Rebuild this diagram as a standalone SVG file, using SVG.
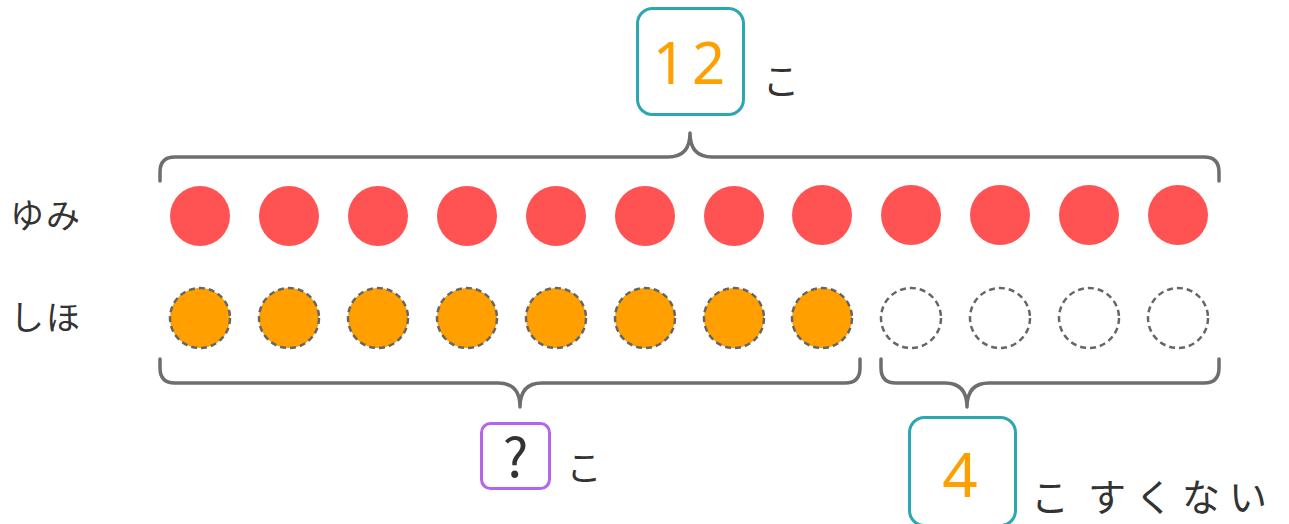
<svg xmlns="http://www.w3.org/2000/svg" width="1289" height="524" viewBox="0 0 1289 524">
<style>
.t{font-family:"Noto Sans CJK JP","Noto Sans",sans-serif;fill:#333;}
.num{font-family:"Noto Sans","Noto Sans CJK JP",sans-serif;fill:#ff9f00;}
.box{fill:#fff;stroke-width:3;}
.red{fill:#ff5252;}
.org{fill:#ff9f00;stroke:#666;stroke-width:2.5;stroke-dasharray:6 4;}
.emp{fill:none;stroke:#666;stroke-width:2.5;stroke-dasharray:6 4;}
.br{fill:none;stroke:#6e6e6e;stroke-width:3.5;stroke-linecap:round;stroke-linejoin:round;}
</style>
<rect width="1289" height="524" fill="#fff"/>
<g id="labels">
<text class="t" x="46" y="228" font-size="34" text-anchor="middle" letter-spacing="2">ゆみ</text>
<text class="t" x="46" y="330" font-size="34" text-anchor="middle" letter-spacing="2">しほ</text>
</g>
<g id="yumi">
<circle class="red" cx="200" cy="216" r="30"/>
<circle class="red" cx="289" cy="216" r="30"/>
<circle class="red" cx="378" cy="216" r="30"/>
<circle class="red" cx="467" cy="216" r="30"/>
<circle class="red" cx="556" cy="216" r="30"/>
<circle class="red" cx="645" cy="216" r="30"/>
<circle class="red" cx="734" cy="216" r="30"/>
<circle class="red" cx="822" cy="215" r="30"/>
<circle class="red" cx="911" cy="215" r="30"/>
<circle class="red" cx="1000" cy="215" r="30"/>
<circle class="red" cx="1089" cy="215" r="30"/>
<circle class="red" cx="1178" cy="215" r="30"/>
</g>
<g id="shiho">
<circle class="org" cx="200" cy="318" r="30"/>
<circle class="org" cx="289" cy="318" r="30"/>
<circle class="org" cx="378" cy="318" r="30"/>
<circle class="org" cx="467" cy="318" r="30"/>
<circle class="org" cx="556" cy="318" r="30"/>
<circle class="org" cx="645" cy="318" r="30"/>
<circle class="org" cx="734" cy="318" r="30"/>
<circle class="org" cx="822" cy="318" r="30"/>
<circle class="emp" cx="911" cy="318" r="30"/>
<circle class="emp" cx="1000" cy="318" r="30"/>
<circle class="emp" cx="1089" cy="318" r="30"/>
<circle class="emp" cx="1178" cy="318" r="30"/>
</g>
<g id="connectors">
<path class="br" d="M160,181 L160,172 Q160,157 175,157 L668,157 Q690,157 690,133 Q690,157 712,157 L1204,157 Q1219,157 1219,172 L1219,181"/>
<path class="br" d="M160,359 L160,368 Q160,383 175,383 L498,383 Q520,383 520,407 Q520,383 542,383 L845,383 Q860,383 860,368 L860,359"/>
<path class="br" d="M881,359 L881,368 Q881,383 896,383 L945,383 Q967,383 967,407 Q967,383 989,383 L1204,383 Q1219,383 1219,368 L1219,359"/>
</g>
<g id="total">
<rect class="box" x="637.5" y="8.5" width="106" height="106" rx="15" stroke="#2aa8b0"/>
<text class="num" x="692" y="84" font-size="58" text-anchor="middle" letter-spacing="6">12</text>
<text class="t" x="781" y="95" font-size="37" text-anchor="middle">こ</text>
</g>
<g id="question">
<rect class="box" x="481.5" y="423.5" width="68" height="65" rx="9" stroke="#b366ea"/>
<text class="t" x="515.5" y="477" font-size="54" text-anchor="middle" font-family="Noto Sans, sans-serif">?</text>
<text class="t" x="584" y="481" font-size="35" text-anchor="middle">こ</text>
</g>
<g id="diff">
<rect class="box" x="909.5" y="417.5" width="106" height="108" rx="15" stroke="#2aa8b0"/>
<text class="num" x="960" y="497" font-size="62" text-anchor="middle">4</text>
<text class="t" font-size="38" y="511"><tspan x="1031">こ</tspan><tspan x="1088" letter-spacing="9">すくない</tspan></text>
</g>
</svg>
